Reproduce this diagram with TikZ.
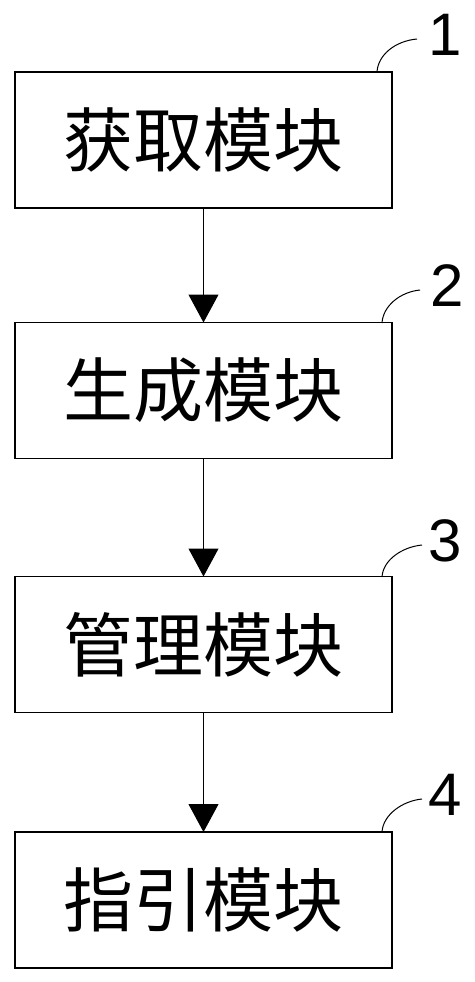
\documentclass[tikz,border=0pt]{standalone}
\usepackage{fontspec}
\setmainfont{Liberation Sans}
\newfontfamily\cjk{Noto Sans CJK SC}
\usetikzlibrary{arrows.meta}
\tikzset{
  modbox/.style={draw=black, line width=1.1pt, rectangle, inner sep=0pt, outer sep=0pt,
    minimum width=377pt, minimum height=136pt, font=\cjk\fontsize{70}{70}\selectfont},
  flow/.style={draw=black, line width=1pt, -{Triangle[width=30pt,length=28pt]}},
  lead/.style={draw=black, line width=1pt},
  numlabel/.style={inner sep=0pt, font=\fontsize{60}{60}\selectfont}
}
\begin{document}
\begin{tikzpicture}[x=1pt,y=-1pt]
\useasboundingbox (0,0) rectangle (474,982);
\node[modbox] (b1) at (203.5,140) {获取模块};
\node[modbox] (b2) at (203.5,390.5) {生成模块};
\node[modbox] (b3) at (203.5,644.5) {管理模块};
\node[modbox] (b4) at (203.5,900) {指引模块};
\draw[flow] (b1) -- (b2);
\draw[flow] (b2) -- (b3);
\draw[flow] (b3) -- (b4);
\node[numlabel] (n1) at (445,35) {1};
\node[numlabel] (n2) at (447,286) {2};
\node[numlabel] (n3) at (445,541) {3};
\node[numlabel] (n4) at (445,795) {4};
\coordinate (s1) at (377,72);  \coordinate (e1) at (417,39);
\coordinate (s2) at (382,323); \coordinate (e2) at (420,290);
\coordinate (s3) at (382,577); \coordinate (e3) at (422,545);
\coordinate (s4) at (382,832); \coordinate (e4) at (422,799);
\draw[lead] (s1) .. controls (378,55) and (395,41) .. (e1);
\draw[lead] (s2) .. controls (383,306) and (400,292) .. (e2);
\draw[lead] (s3) .. controls (383,560) and (402,547) .. (e3);
\draw[lead] (s4) .. controls (383,815) and (402,801) .. (e4);
\end{tikzpicture}
\end{document}
